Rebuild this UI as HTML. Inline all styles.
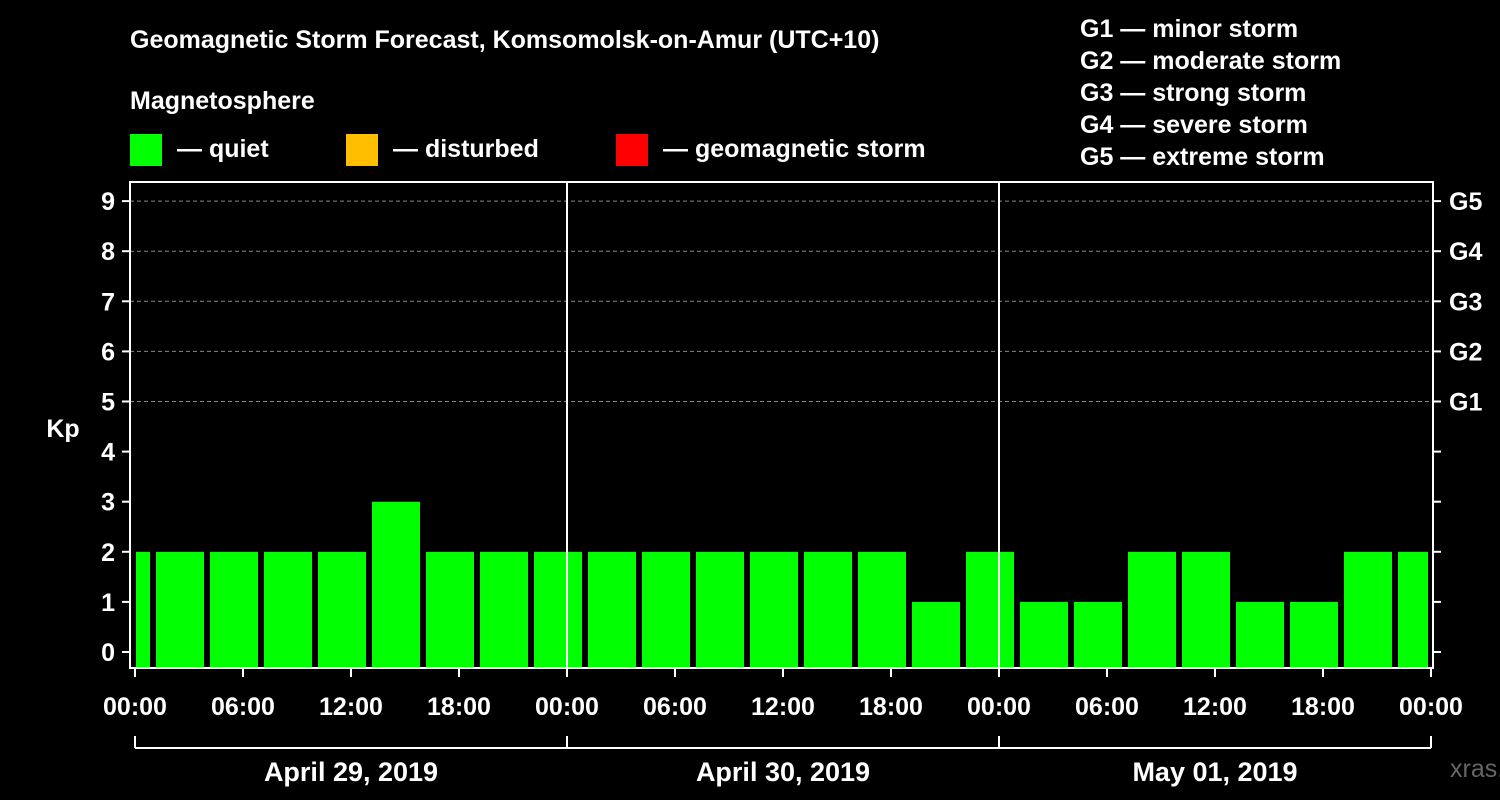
<!DOCTYPE html>
<html><head><meta charset="utf-8"><style>
body{margin:0;background:#000;}
svg{display:block;font-family:"Liberation Sans",Arial,sans-serif;font-weight:bold;}
</style></head><body>
<svg id="c" width="1500" height="800" viewBox="0 0 1500 800">
<rect width="1500" height="800" fill="#000"/>
<text x="130" y="48" fill="#fff" font-size="25">Geomagnetic Storm Forecast, Komsomolsk-on-Amur (UTC+10)</text>
<text x="130" y="109" fill="#fff" font-size="25">Magnetosphere</text>
<g><rect x="130" y="134" width="32" height="32" fill="#00ff00"/><text x="177" y="157" fill="#fff" font-size="25">— quiet</text></g>
<g><rect x="346" y="134" width="32" height="32" fill="#ffbf00"/><text x="393" y="157" fill="#fff" font-size="25">— disturbed</text></g>
<g><rect x="616" y="134" width="32" height="32" fill="#ff0000"/><text x="663" y="157" fill="#fff" font-size="25">— geomagnetic storm</text></g>
<g fill="#fff" font-size="25">
<text x="1080" y="37">G1 — minor storm</text><text x="1080" y="69">G2 — moderate storm</text><text x="1080" y="101">G3 — strong storm</text><text x="1080" y="133">G4 — severe storm</text><text x="1080" y="165">G5 — extreme storm</text>
</g>
<text x="63" y="437" fill="#fff" font-size="25" text-anchor="middle">Kp</text>
<text x="1450" y="777" fill="#666" font-size="25" font-weight="normal">xras.ru</text>
<defs><clipPath id="pc"><rect x="136" y="182" width="1292" height="486"/></clipPath></defs>
<g id="grid"></g><g id="bars" clip-path="url(#pc)"></g><g id="axes"></g>
</svg>
<script>
const kpValues=[2,2,2,2,2,3,2,2,2,2,2,2,2,2,2,1,2,1,1,2,2,1,1,2,2];
const barHours=[-0.5,2.5,5.5,8.5,11.5,14.5,17.5,20.5,23.5,26.5,29.5,32.5,35.5,38.5,41.5,44.5,47.5,50.5,53.5,56.5,59.5,62.5,65.5,68.5,71.5];
const yTicks=[0,1,2,3,4,5,6,7,8,9];
const gLabels=["G1","G2","G3","G4","G5"];
const xTickLabels=["00:00","06:00","12:00","18:00","00:00","06:00","12:00","18:00","00:00","06:00","12:00","18:00","00:00"];
const dayLabels=["April 29, 2019","April 30, 2019","May 01, 2019"];
const NS="http://www.w3.org/2000/svg";
const X=h=>135+h*18, Y=v=>652-v*50.1;
function mk(t,a,p,txt){const e=document.createElementNS(NS,t);for(const k in a)e.setAttribute(k,a[k]);if(txt!=null)e.textContent=txt;p.appendChild(e);return e;}
const grid=document.getElementById('grid'),bars=document.getElementById('bars'),axes=document.getElementById('axes');
[5,6,7,8,9].forEach(v=>{const l=mk('line',{x1:130,x2:1433,y1:Y(v),y2:Y(v),stroke:'#888','stroke-dasharray':'4,3','stroke-width':1},grid);

});
kpValues.forEach((v,i)=>{const c=X(barHours[i]);const col=v>=5?'#ff0000':(v>=4?'#ffbf00':'#00ff00');
const r=mk('rect',{x:c-24,y:Y(v),width:48,height:668-Y(v),fill:col},bars);

});
const f=mk('rect',{x:130,y:182,width:1303,height:486,fill:'none',stroke:'#fff','stroke-width':2},axes);


[24,48].forEach(h=>{const l=mk('line',{x1:X(h),x2:X(h),y1:182,y2:668,stroke:'#fff','stroke-width':2},axes);

});
yTicks.forEach(v=>{mk('line',{x1:122,x2:130,y1:Y(v),y2:Y(v),stroke:'#fff','stroke-width':2},axes);
mk('line',{x1:1433,x2:1441,y1:Y(v),y2:Y(v),stroke:'#fff','stroke-width':2},axes);
const t=mk('text',{x:115,y:Y(v)+9,fill:'#fff','font-size':25,'text-anchor':'end'},axes,String(v));

});
gLabels.forEach((g,i)=>{const t=mk('text',{x:1449,y:Y(5+i)+9,fill:'#fff','font-size':25},axes,g);

});
xTickLabels.forEach((s,i)=>{const x=X(i*6);mk('line',{x1:x,x2:x,y1:668,y2:677,stroke:'#fff','stroke-width':2},axes);
const t=mk('text',{x:x,y:715,fill:'#fff','font-size':25,'text-anchor':'middle'},axes,s);

});
mk('line',{x1:X(0),x2:X(72),y1:748,y2:748,stroke:'#fff','stroke-width':2},axes);
[0,24,48,72].forEach(h=>mk('line',{x1:X(h),x2:X(h),y1:736,y2:748,stroke:'#fff','stroke-width':2},axes));
dayLabels.forEach((d,i)=>{const t=mk('text',{x:X(i*24+12),y:781,fill:'#fff','font-size':27,'text-anchor':'middle'},axes,d);

});
</script>
</body></html>
